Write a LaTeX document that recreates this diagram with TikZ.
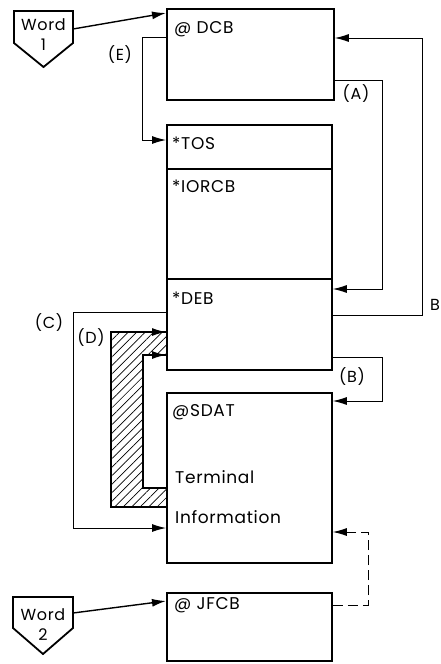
\documentclass[tikz,border=0pt]{standalone}
\usepackage{fontspec}
\setmainfont{Poppins}[LetterSpace=4]
\usetikzlibrary{arrows.meta,patterns.meta}
\begin{document}
\begin{tikzpicture}[x=1pt,y=-1pt,
  box/.style={draw,line width=1.8pt,minimum width=165pt,inner sep=0pt,anchor=north west},
  txt/.style={anchor=west,inner sep=0pt,font=\fontsize{17}{19}\selectfont},
  lbl/.style={inner sep=0pt,font=\fontsize{16}{18}\selectfont},
  wtxt/.style={inner sep=0pt,align=center,font=\fontsize{16}{20}\selectfont},
  conn/.style={line width=1pt},
  arr/.style={conn,-{Latex[length=14pt,width=8pt]}},
  wordshape/.style={draw,line width=1.8pt,line join=miter}]
\useasboundingbox (0,0) rectangle (440,664);
% boxes
\node[box,minimum width=167pt,minimum height=91pt] (dcb) at (166,8) {};
\node[box,minimum height=44pt] (tos) at (166,124) {};
\node[box,minimum height=110pt] (iorcb) at (166,168) {};
\node[box,minimum height=91pt] (deb) at (166,278) {};
\node[box,minimum height=170pt] (sdat) at (166,392) {};
\node[box,minimum height=68pt] (jfcb) at (166,592) {};
% texts
\node[txt] (tdcb) at (174,29) {@ DCB};
\node[txt] (ttos) at (172,143) {*TOS};
\node[txt] (tiorcb) at (172,186) {*IORCB};
\node[txt] (tdeb) at (172,298) {*DEB};
\node[txt] (tsdat) at (172,412) {@SDAT};
\node[txt] (tterm) at (175,477) {Terminal};
\node[txt] (tinfo) at (175,517) {Information};
\node[txt] (tjfcb) at (174,605) {@ JFCB};
% word shapes
\draw[wordshape] (14,11) -- (73,11) -- (73,43) -- (43.5,67) -- (14,43) -- cycle;
\node[wtxt] (w1) at (43.5,35) {Word\\1};
\draw[wordshape] (13,597) -- (73,597) -- (73,628) -- (43,654) -- (13,628) -- cycle;
\node[wtxt] (w2) at (43,625) {Word\\2};
\coordinate (w1e) at (73,29);
\coordinate (w2e) at (73,613);
\draw[arr,line width=1.4pt] (w1e) -- (dcb.west |- 0,13);
\draw[arr,line width=1.4pt] (w2e) -- (jfcb.west |- 0,601);
% connectors
\draw[arr] (dcb.west |- 0,37) -- ++(-24,0) |- (tos.west |- 0,140);
\draw[arr] (dcb.east |- 0,80) -- (382,80) |- (deb.east |- 0,289);
\draw[arr] (deb.east |- 0,315) -- (422,315) |- (dcb.east |- 0,38);
\draw[arr] (deb.east |- 0,357) -- (382,357) |- (sdat.east |- 0,401);
\draw[arr] (deb.west |- 0,312) -- (73,312) |- (sdat.west |- 0,528);
\draw[arr,dash pattern=on 10pt off 5pt] (jfcb.east |- 0,605) -- (368,605) |- (sdat.east |- 0,532);
% hatched band (D)
\fill[pattern={Lines[angle=45,distance=6pt,line width=0.7pt]}]
  (166,332) -- (111,332) -- (111,507) -- (166,507) -- (166,488) -- (143,488) -- (143,355) -- (166,355) -- cycle;
\draw[line width=1.3pt] (166,332) -- (111,332) -- (111,507) -- (166,507);
\draw[line width=1.3pt] (166,488) -- (143,488) -- (143,355) -- (166,355);
\draw[arr,line width=1.3pt] (140,332) -- (deb.west |- 0,332);
\draw[arr,line width=1.3pt] (143,355) -- (deb.west |- 0,355);
% labels
\node[lbl] (le) at (120,55) {(E)};
\node[lbl] (la) at (356,94) {(A)};
\node[lbl] (lb) at (435,305) {B};
\node[lbl] (lbb) at (352,377) {(B)};
\node[lbl] (lc) at (49,323) {(C)};
\node[lbl] (ld) at (91,338) {(D)};
\end{tikzpicture}
\end{document}
